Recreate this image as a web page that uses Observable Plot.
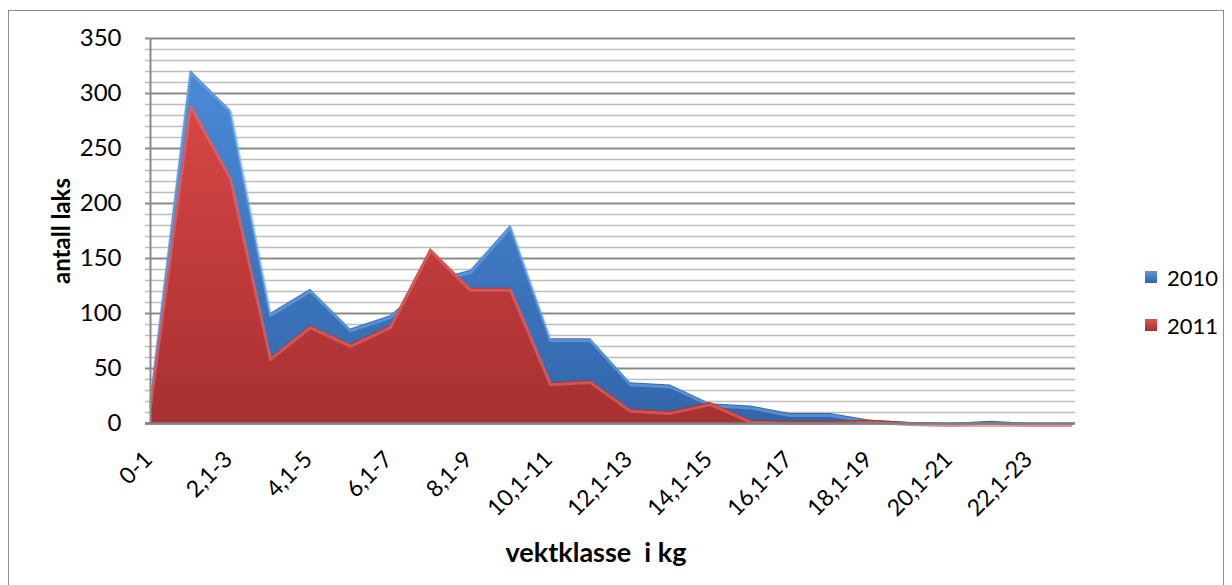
<!DOCTYPE html>
<html>
<head>
<meta charset="utf-8">
<script src="https://cdn.jsdelivr.net/npm/d3@7"></script>
<script src="https://cdn.jsdelivr.net/npm/@observablehq/plot@0.6"></script>
<style>
  body { margin: 0; background: #fff; color: #000; font-family: Lato, "Open Sans", sans-serif; }
  #wrap { position: relative; width: 1232px; height: 585px; overflow: hidden; background: #fff; }
  #frame { position: absolute; left: 8px; top: 10px; width: 1216px; height: 620px; border: 1.5px solid #8c8c8c; box-sizing: border-box; }
  #chart { position: absolute; left: 0; top: 0; }
  .ytitle { position: absolute; left: 60px; top: 231px; transform: translate(-50%, -50%) rotate(-90deg); font-weight: bold; font-size: 24px; white-space: nowrap; }
  .xtitle { position: absolute; left: 596px; top: 551px; transform: translate(-50%, -50%); font-weight: bold; font-size: 27px; white-space: pre; }
  .legend { position: absolute; left: 1145px; top: 264px; font-size: 22px; }
  .legend .item { display: flex; align-items: center; height: 26px; margin-bottom: 22px; }
  .legend .sw { width: 12px; height: 12px; margin-right: 10px; }
</style>
</head>
<body>
<div id="wrap">
  <div id="frame"></div>
  <div id="chart"></div>
  <div class="ytitle">antall laks</div>
  <div class="xtitle">vektklasse  i kg</div>
  <div class="legend" id="legend"></div>
</div>
<script>
const categories = ["0-1","1,1-2","2,1-3","3,1-4","4,1-5","5,1-6","6,1-7","7,1-8","8,1-9","9,1-10",
  "10,1-11","11,1-12","12,1-13","13,1-14","14,1-15","15,1-16","16,1-17","17,1-18","18,1-19","19,1-20",
  "20,1-21","21,1-22","22,1-23","23,1-24"];
const tickLabels = ["0-1","2,1-3","4,1-5","6,1-7","8,1-9","10,1-11","12,1-13","14,1-15","16,1-17","18,1-19","20,1-21","22,1-23"];
const series2010 = [22, 321, 285, 100, 122, 86, 98, 130, 139, 180, 77, 77, 37, 35, 18, 16, 9, 9, 3, 1, 0, 2, 0, 0];
const series2011 = [17, 290, 224, 60, 89, 72, 89, 159, 123, 123, 37, 39, 13, 11, 19, 3, 2, 2, 3, 1, 0, 0, 0, 0];
const majorTicks = [0, 50, 100, 150, 200, 250, 300, 350];
const minorTicks = [10,20,30,40,60,70,80,90,110,120,130,140,160,170,180,190,210,220,230,240,260,270,280,290,310,320,330,340];
const seriesNames = ["2010", "2011"];

const rows = categories.map((c, i) => ({cat: c, v2010: series2010[i], v2011: series2011[i]}));

const svg = Plot.plot({
  width: 1232,
  height: 585,
  marginLeft: 145,
  marginRight: 157,
  marginTop: 38,
  marginBottom: 162,
  style: {background: "transparent", color: "#000", fontFamily: "Lato, 'Open Sans', sans-serif"},
  x: {type: "point", domain: categories, padding: 0},
  y: {domain: [0, 350]},
  marks: [
    Plot.ruleY(minorTicks, {stroke: "#bdbdbd", strokeWidth: 1.6}),
    Plot.ruleY(majorTicks, {stroke: "#8a8a8a", strokeWidth: 2}),
    Plot.areaY(rows, {x: "cat", y: "v2010", fill: "url(#g2010)"}),
    Plot.line(rows, {x: "cat", y: "v2010", stroke: "#6ea6ea", strokeWidth: 3, dy: 2, strokeOpacity: 0.6}),
    Plot.areaY(rows, {x: "cat", y: "v2011", fill: "url(#g2011)"}),
    Plot.line(rows, {x: "cat", y: "v2011", stroke: "#ea6a6a", strokeWidth: 3, dy: 2, strokeOpacity: 0.6}),
    Plot.ruleX([categories[0]], {stroke: "#8a8a8a", strokeWidth: 2}),
    Plot.ruleY([0], {stroke: "#7f7f7f", strokeWidth: 2.5}),
    Plot.axisY({ticks: majorTicks, tickSize: 0, tickPadding: 24, fontSize: 24, label: null}),
    Plot.axisX({ticks: tickLabels, tickSize: 0, tickRotate: -45, tickPadding: 32, dx: -2, fontSize: 23, label: null})
  ]
});

const defs = d3.select(svg).insert("defs", ":first-child");
const g1 = defs.append("linearGradient").attr("id", "g2010").attr("x1", 0).attr("y1", 0).attr("x2", 0).attr("y2", 1);
g1.append("stop").attr("offset", "0%").attr("stop-color", "#4a8ad6");
g1.append("stop").attr("offset", "100%").attr("stop-color", "#3266ab");
const g2 = defs.append("linearGradient").attr("id", "g2011").attr("x1", 0).attr("y1", 0).attr("x2", 0).attr("y2", 1);
g2.append("stop").attr("offset", "0%").attr("stop-color", "#d84646");
g2.append("stop").attr("offset", "100%").attr("stop-color", "#a73030");

document.getElementById("chart").appendChild(svg);

const legend = document.getElementById("legend");
seriesNames.forEach((name, i) => {
  const item = document.createElement("div");
  item.className = "item";
  const sw = document.createElement("div");
  sw.className = "sw";
  sw.style.background = `linear-gradient(${i === 0 ? "#5b97dd, #2f64a8" : "#dc5555, #a52f2f"})`;
  const t = document.createElement("span");
  t.textContent = name;
  item.appendChild(sw);
  item.appendChild(t);
  legend.appendChild(item);
});
</script>
</body>
</html>
